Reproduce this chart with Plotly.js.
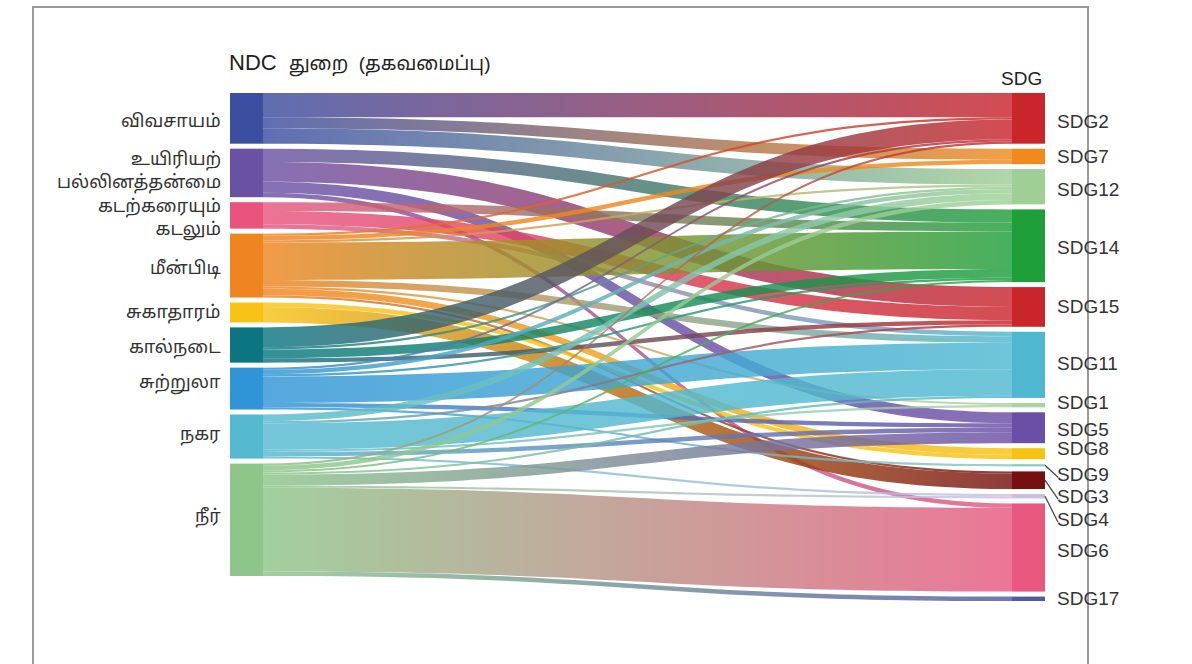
<!DOCTYPE html>
<html>
<head>
<meta charset="utf-8">
<script src="https://cdn.plot.ly/plotly-3.0.1.min.js"></script>
<style>
  html, body { margin: 0; padding: 0; background: #ffffff; }
  #chart { width: 1192px; height: 664px; }
</style>
</head>
<body>
<div id="chart"></div>
<script>
// ---------------- data ----------------
const sectorLabels = ['விவசாயம்', 'உயிரியற்<br>பல்லினத்தன்மை', 'கடற்கரையும்<br>கடலும்', 'மீன்பிடி', 'சுகாதாரம்', 'கால்நடை', 'சுற்றுலா', 'நகர', 'நீர்'];
const sdgLabels = ['SDG2', 'SDG7', 'SDG12', 'SDG14', 'SDG15', 'SDG11', 'SDG1', 'SDG5', 'SDG8', 'SDG9', 'SDG3', 'SDG4', 'SDG6', 'SDG17'];
const sectorColors = ['#3c4ea0', '#6b51a4', '#e9547f', '#ee8520', '#f8c315', '#0b7682', '#2f95d6', '#55b9cf', '#8dc58a'];
const sdgColors = ['#c9252b', '#ef8b1d', '#9fcf96', '#1f9f3a', '#c9252b', '#4fb8d0', '#a9d3a4', '#6b4ea5', '#f6c312', '#8cc8c0', '#761010', '#c8c0e4', '#e8587f', '#5458a5'];

// links: sector index -> SDG index, value
const linkSector = [0,0,0, 1,1,1,1, 2,2,2, 3,3,3,3,3,3,3,3, 4,4, 5,5,5,5, 6,6,6,6,6,6, 7,7,7,7,7,7, 8,8,8,8,8,8,8,8];
const linkSdg    = [0,1,2, 3,4,7,12, 3,4,5, 0,1,2,3,5,6,8,10, 8,10, 0,2,3,4, 0,2,3,5,7,9, 2,4,5,6,7,11, 0,2,3,5,7,11,12,13];
const linkValue  = [11,5,7, 6,9,5,2, 4,6,2, 1,2,1,17,3,1,3,1, 2,7, 9,1,4,2, 1,2,1,12,2,1, 3,1,12,1,2,1, 1,2,1,1,5,1,38,2];

const titleLeftA = 'NDC';
const titleLeftB = 'துறை  (தகவமைப்பு)';
const titleRight = 'SDG';

// ---------------- layout computation ----------------
const W = 1192, H = 664;
const margin = {l: 230, r: 147, t: 93, b: 63};
const plotW = W - margin.l - margin.r;
const plotH = H - margin.t - margin.b;
const thickness = 33, pad = 5;

const nS = sectorLabels.length, nG = sdgLabels.length;
const srcTot = new Array(nS).fill(0), tgtTot = new Array(nG).fill(0);
linkValue.forEach((v, i) => { srcTot[linkSector[i]] += v; tgtTot[linkSdg[i]] += v; });
const total = srcTot.reduce((a, b) => a + b, 0);
const ky = Math.min((plotH - (nS - 1) * pad) / total, (plotH - (nG - 1) * pad) / total);

function stack(tots) {
  const centers = [];
  let y = 0;
  tots.forEach(t => { const h = t * ky; centers.push(y + h / 2); y += h + pad; });
  return centers;
}
const sCenters = stack(srcTot), gCenters = stack(tgtTot);

const nodeX = [], nodeY = [];
sCenters.forEach(c => { nodeX.push((thickness / 2) / plotW); nodeY.push(c / plotH); });
gCenters.forEach(c => { nodeX.push(1 - (thickness / 2) / plotW); nodeY.push(c / plotH); });

function hexA(hex, a) {
  const r = parseInt(hex.slice(1, 3), 16), g = parseInt(hex.slice(3, 5), 16), b = parseInt(hex.slice(5, 7), 16);
  return `rgba(${r},${g},${b},${a})`;
}

const nodeColors = sectorColors.concat(sdgColors);
const trace = {
  type: 'sankey',
  arrangement: 'fixed',
  domain: {x: [0, 1], y: [0, 1]},
  node: {
    label: nodeColors.map(() => ''),
    customdata: sectorLabels.concat(sdgLabels),
    color: nodeColors,
    thickness: thickness,
    pad: pad,
    line: {width: 0},
    x: nodeX,
    y: nodeY,
    hoverinfo: 'none'
  },
  link: {
    source: linkSector,
    target: linkSdg.map(g => g + nS),
    value: linkValue,
    color: linkSector.map(s => hexA(sectorColors[s], 0.82)),
    line: {width: 0},
    hoverinfo: 'none'
  }
};

// labels
const annotations = [];
const tamilFont = '"Noto Sans Tamil", "Lohit Tamil", "Latha", "Noto Sans", "DejaVu Sans", sans-serif';
const sectorLabelShift = [4, -1, 4, 4, 1, 3, -5, -1, -2];
sectorLabels.forEach((lab, i) => {
  annotations.push({
    xref: 'paper', yref: 'paper', x: -7 / plotW, y: 1 - (sCenters[i] + sectorLabelShift[i]) / plotH,
    text: lab, showarrow: false, xanchor: 'right', yanchor: 'middle', align: 'right',
    font: {family: tamilFont, size: 18, color: '#333333'}
  });
});
// label offsets for crowded SDG labels (pixels, downward)
const sdgLabelShift = [3, 0, 3, 2, 0, -1, -3, 2, -5, 9, 16, 23, 3, 0];
const shapes = [];
sdgLabels.forEach((lab, i) => {
  const yc = gCenters[i] + sdgLabelShift[i];
  annotations.push({
    xref: 'paper', yref: 'paper', x: 1 + 10 / plotW, y: 1 - yc / plotH,
    text: lab, showarrow: false, xanchor: 'left', yanchor: 'middle',
    font: {family: 'Liberation Sans, Arial, sans-serif', size: 19, color: '#333333'}
  });
  if (Math.abs(sdgLabelShift[i]) > 5) {
    shapes.push({
      type: 'line', xref: 'paper', yref: 'paper',
      x0: 1, y0: 1 - gCenters[i] / plotH, x1: 1 + 13 / plotW, y1: 1 - (yc + 3) / plotH,
      line: {color: '#444444', width: 1.2}
    });
  }
});
annotations.push({
  xref: 'paper', yref: 'paper', x: -3 / plotW, y: 1 + 30 / plotH, xanchor: 'left', yanchor: 'middle',
  text: titleLeftA + '  <span style="font-size:19px">' + titleLeftB + '</span>', showarrow: false,
  font: {family: 'Liberation Sans, Arial, ' + tamilFont, size: 22, color: '#222222'}
});
annotations.push({
  xref: 'paper', yref: 'paper', x: (1021 - margin.l) / plotW, y: 1 + 15 / plotH, xanchor: 'center', yanchor: 'middle',
  text: titleRight, showarrow: false,
  font: {family: 'Liberation Sans, Arial, sans-serif', size: 19, color: '#222222'}
});
// frame
shapes.push({
  type: 'rect', xref: 'paper', yref: 'paper',
  x0: (33 - margin.l) / plotW, x1: (1088 - margin.l) / plotW,
  y0: 1 - (680 - margin.t) / plotH, y1: 1 - (7 - margin.t) / plotH,
  line: {color: '#9a9a9a', width: 2}, fillcolor: 'rgba(0,0,0,0)'
});

const layout = {
  width: W, height: H,
  margin: margin,
  paper_bgcolor: '#ffffff',
  font: {family: 'Liberation Sans, Arial, sans-serif'},
  annotations: annotations,
  shapes: shapes,
  showlegend: false
};

Plotly.newPlot('chart', [trace], layout, {displayModeBar: false, staticPlot: true}).then(gd => {
  // gradient fill for links: source colour -> target colour
  const svg = gd.querySelector('.main-svg');
  const ns = 'http://www.w3.org/2000/svg';
  let defs = svg.querySelector('defs');
  if (!defs) { defs = document.createElementNS(ns, 'defs'); svg.insertBefore(defs, svg.firstChild); }
  gd.querySelectorAll('.sankey-link').forEach(p => {
    const d = p.__data__;
    if (!d || !d.link) return;
    const i = d.link.pointNumber;
    const c0 = sectorColors[linkSector[i]], c1 = sdgColors[linkSdg[i]];
    const g = document.createElementNS(ns, 'linearGradient');
    g.setAttribute('id', 'lg' + i);
    g.setAttribute('x1', '0'); g.setAttribute('x2', '1'); g.setAttribute('y1', '0'); g.setAttribute('y2', '0');
    const s0 = document.createElementNS(ns, 'stop'); s0.setAttribute('offset', '0'); s0.setAttribute('stop-color', c0);
    const s1 = document.createElementNS(ns, 'stop'); s1.setAttribute('offset', '1'); s1.setAttribute('stop-color', c1);
    g.appendChild(s0); g.appendChild(s1); defs.appendChild(g);
    p.style.fill = 'url(#lg' + i + ')';
  });
});
</script>
</body>
</html>
